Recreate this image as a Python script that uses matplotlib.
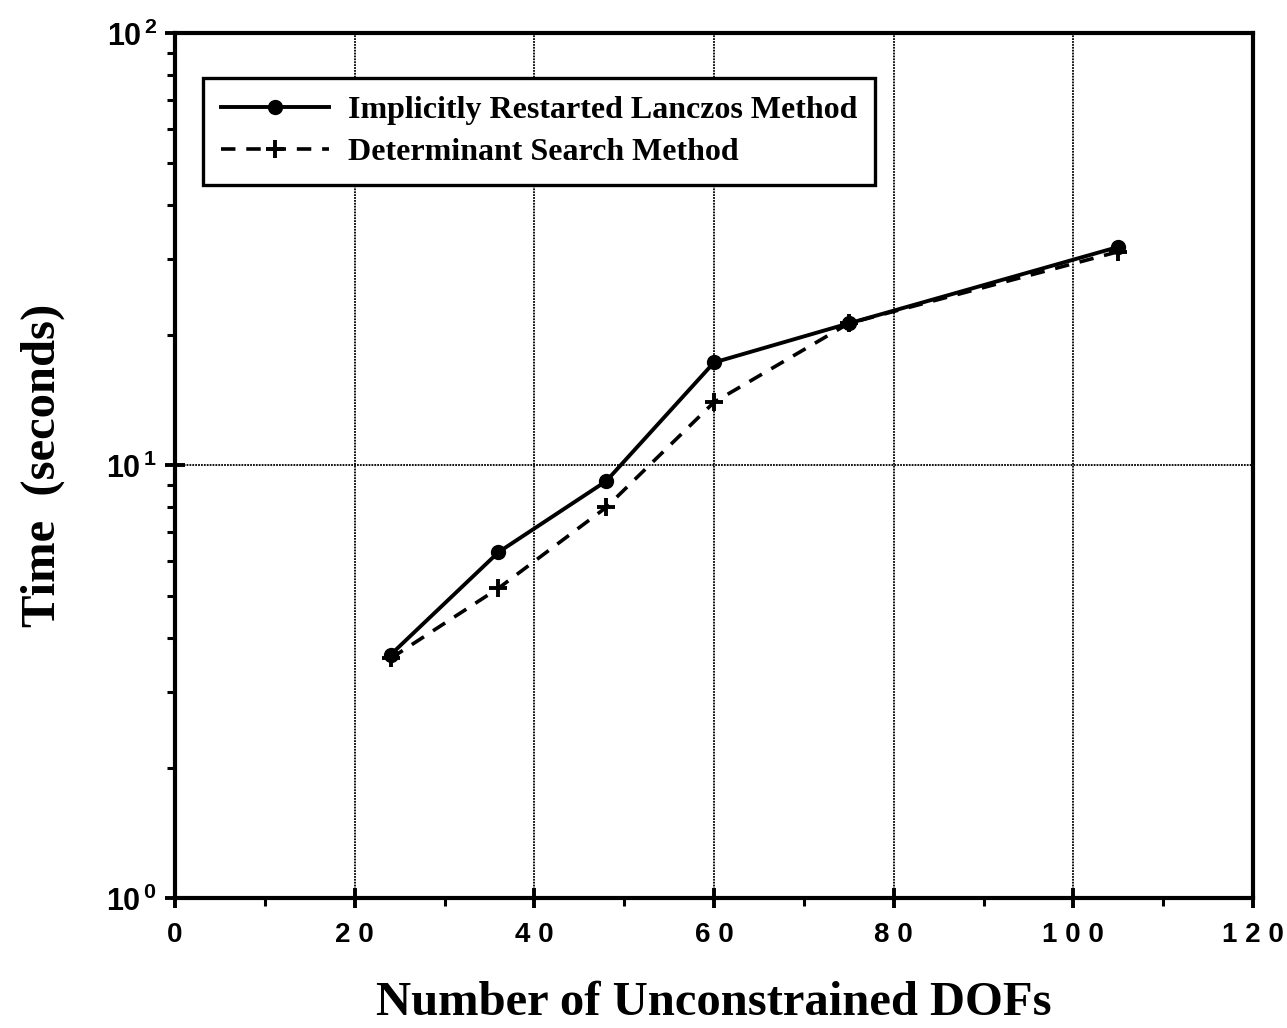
import numpy as np
import matplotlib.pyplot as plt
from matplotlib.ticker import FixedLocator, FixedFormatter, LogLocator, NullFormatter

plt.rcParams['mathtext.fontset'] = 'custom'
plt.rcParams['mathtext.rm'] = 'Liberation Sans:bold'
plt.rcParams['mathtext.it'] = 'Liberation Sans:bold'
plt.rcParams['mathtext.bf'] = 'Liberation Sans:bold'

## data: problem size vs. solve time
dofs = [24, 36, 48, 60, 75, 105]
lanczos_time = [3.65, 6.3, 9.2, 17.3, 21.3, 32.0]
detsearch_time = [3.58, 5.2, 8.0, 14.0, 21.3, 31.2]

x_ticks = [0, 20, 40, 60, 80, 100, 120]
x_ticklabels = ['0', '2 0', '4 0', '6 0', '8 0', '1 0 0', '1 2 0']
y_ticks = [1, 10, 100]
y_ticklabels = ['$10^{\\,0}$', '$10^{\\,1}$', '$10^{\\,2}$']

serif = 'Liberation Serif'
sans = 'Liberation Sans'

fig = plt.figure(figsize=(12.87, 10.28), dpi=100)
ax = fig.add_axes([0.136, 0.1265, 0.8376, 0.8415])

ax.plot(dofs, lanczos_time, '-', color='black', lw=2.8, marker='o', ms=10,
        label='Implicitly Restarted Lanczos Method', zorder=3)
ax.plot(dofs, detsearch_time, '--', color='black', lw=2.6, marker='+', ms=13,
        mew=2.8, dashes=(4, 3), label='Determinant Search Method', zorder=3)

ax.set_yscale('log')
ax.set_xlim(0, 120)
ax.set_ylim(1, 100)

ax.xaxis.set_major_locator(FixedLocator(x_ticks))
ax.xaxis.set_major_formatter(FixedFormatter(x_ticklabels))
ax.xaxis.set_minor_locator(FixedLocator(np.arange(10, 120, 20)))
ax.yaxis.set_major_locator(FixedLocator(y_ticks))
ax.yaxis.set_major_formatter(FixedFormatter(y_ticklabels))
ax.yaxis.set_minor_locator(LogLocator(base=10, subs=np.arange(2, 10)))
ax.yaxis.set_minor_formatter(NullFormatter())

ax.tick_params(which='major', direction='inout', length=14, width=2.8)
ax.tick_params(which='minor', direction='out', length=6, width=2.2)
ax.tick_params(axis='x', which='major', labelsize=20, pad=10)
ax.tick_params(axis='y', which='major', labelsize=22, pad=6)
for lab in ax.get_xticklabels():
    lab.set_fontfamily(sans)
    lab.set_fontweight('bold')

ax.grid(True, which='major', color='black', lw=1.3, ls=(0, (1, 0.6)))
for s in ax.spines.values():
    s.set_linewidth(3)

ax.set_xlabel('Number of Unconstrained DOFs', fontfamily=serif, fontweight='bold',
              fontsize=35, labelpad=24)
ax.set_ylabel('Time  (seconds)', fontfamily=serif, fontweight='bold',
              fontsize=35, labelpad=30)

leg = ax.legend(loc='upper left', bbox_to_anchor=(0.026, 0.948), borderaxespad=0,
                numpoints=1, handlelength=3.4, handletextpad=0.6, fancybox=False,
                framealpha=1, edgecolor='black', borderpad=0.55, labelspacing=0.4,
                prop={'family': serif, 'weight': 'bold', 'size': 23})
leg.get_frame().set_linewidth(2.4)

fig.savefig('out.png', dpi=100)
